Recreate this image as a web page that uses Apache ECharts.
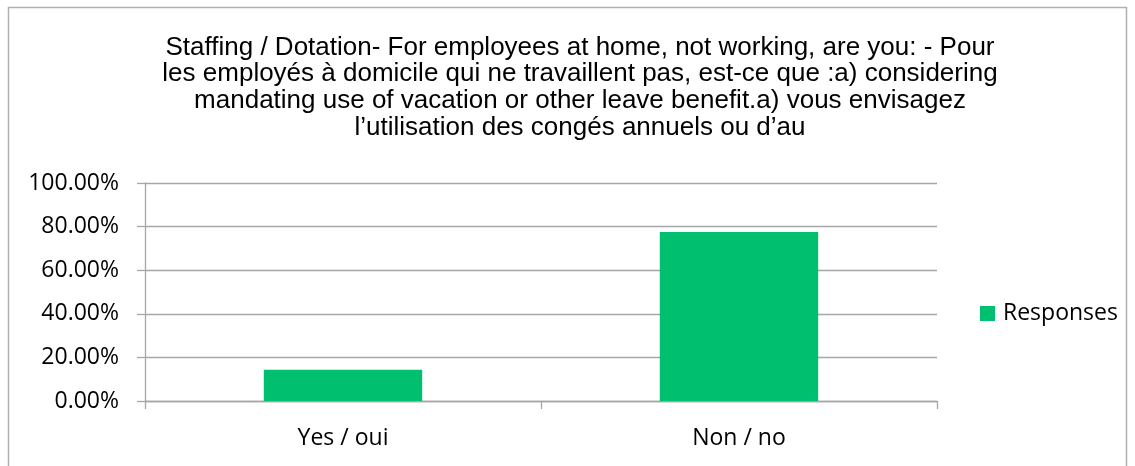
<!DOCTYPE html>
<html>
<head>
<meta charset="utf-8">
<script src="https://cdn.jsdelivr.net/npm/echarts@6/dist/echarts.min.js"></script>
<style>
  html, body { margin: 0; padding: 0; background: #fff; }
  #chart { width: 1135px; height: 466px; }
</style>
</head>
<body>
<div id="chart"></div>
<script>
  // data
  const categories = ['Yes / oui', 'Non / no']
  const responses = [14.29, 77.55]
  const yTicks = [0, 20, 40, 60, 80, 100]
  const seriesName = 'Responses'
  const titleLines = [
    'Staffing / Dotation- For employees at home, not working, are you: - Pour',
    'les employés à domicile qui ne travaillent pas, est-ce que :a) considering',
    'mandating use of vacation or other leave benefit.a) vous envisagez',
    'l’utilisation des congés annuels ou d’au'
  ]

  const chart = echarts.init(document.getElementById('chart'))
  const axisGrey = '#a6a6a6'

  chart.setOption({
    animation: false,
    graphic: [{
      type: 'rect',
      shape: {x: 8.5, y: 7.5, width: 1118, height: 470},
      style: {fill: 'none', stroke: '#b0b0b0', lineWidth: 1.5},
      silent: true
    }],
    title: {
      text: titleLines.join('\n'),
      left: 575,
      top: 29,
      textAlign: 'center',
      textStyle: {
        fontFamily: 'Liberation Sans',
        fontSize: 26,
        fontWeight: 'normal',
        color: '#000',
        lineHeight: 26.7
      }
    },
    legend: {
      data: [seriesName],
      orient: 'vertical',
      left: 975,
      top: 297,
      itemWidth: 15,
      itemHeight: 15,
      icon: 'rect',
      textStyle: {fontFamily: 'Open Sans', fontSize: 23, color: '#000', padding: [0, 0, 0, 3]}
    },
    grid: {left: 145, right: 198, top: 183, bottom: 65, containLabel: false},
    xAxis: {
      type: 'category',
      data: categories,
      axisLine: {lineStyle: {color: axisGrey, width: 1.3}},
      axisTick: {show: true, alignWithLabel: false, length: 8, lineStyle: {color: axisGrey, width: 1.3}},
      axisLabel: {fontFamily: 'Open Sans', fontSize: 23, color: '#000', margin: 26}
    },
    yAxis: {
      type: 'value',
      min: yTicks[0],
      max: yTicks[yTicks.length - 1],
      interval: 20,
      axisLine: {show: true, lineStyle: {color: axisGrey, width: 1.3}},
      axisTick: {show: true, length: 8, lineStyle: {color: axisGrey, width: 1.3}},
      splitLine: {lineStyle: {color: axisGrey, width: 1.3}},
      axisLabel: {
        fontFamily: 'Open Sans',
        fontSize: 23,
        color: '#000',
        margin: 26,
        formatter: v => v.toFixed(2) + '%'
      }
    },
    series: [{
      name: seriesName,
      type: 'bar',
      data: responses,
      barWidth: '40%',
      itemStyle: {color: '#00BF6F'}
    }]
  })
</script>
</body>
</html>
